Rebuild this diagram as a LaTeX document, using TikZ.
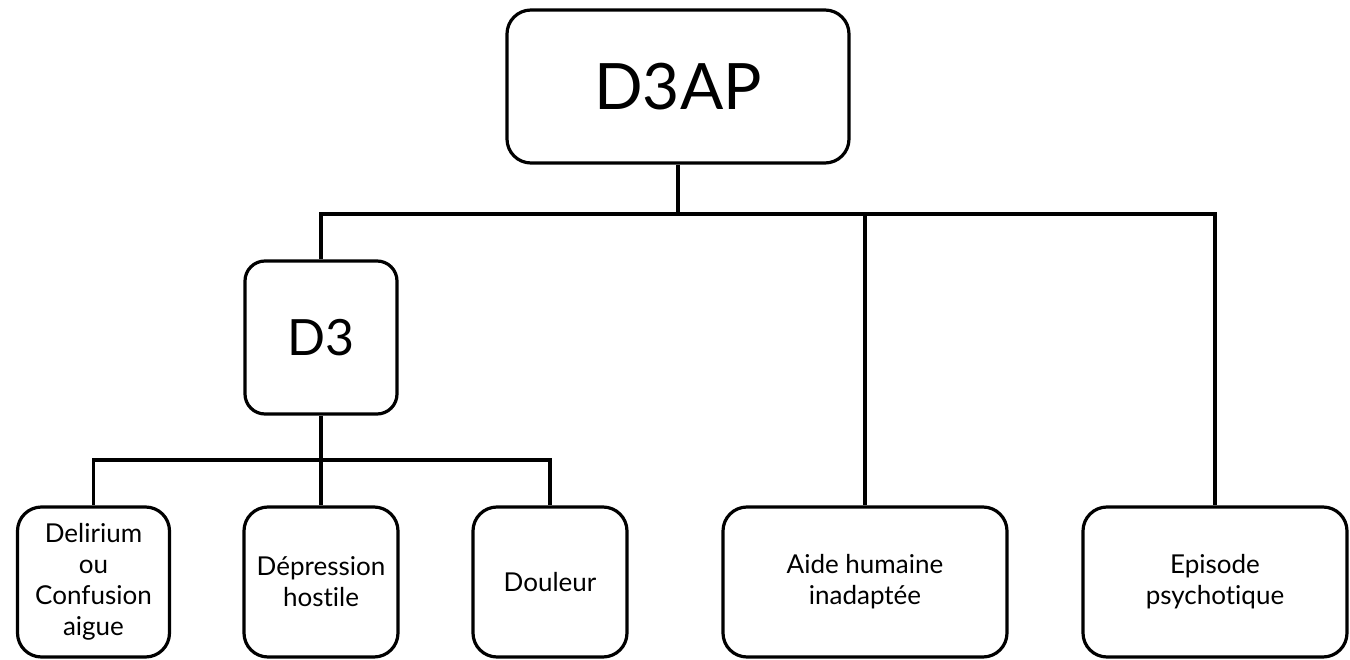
\documentclass[tikz,border=0pt]{standalone}
\usepackage{fontspec}
\setmainfont{Lato}[RawFeature=-liga]
\begin{document}
\begin{tikzpicture}[x=1pt,y=-1pt,
  box/.style={draw=black,line width=3.2pt,rounded corners=24pt,fill=white,align=center,inner sep=0pt},
  leaf/.style={box,minimum height=150pt,font=\fontsize{26}{31}\selectfont},
  conn/.style={draw=black,line width=3.2pt}]
\useasboundingbox[fill=white] (0,0) rectangle (1350,660);
\node[box,minimum width=342pt,minimum height=153pt,font=\fontsize{64}{68}\selectfont] (top) at (678,86.5) {D3AP};
\node[box,minimum width=152pt,minimum height=153pt,rounded corners=20pt,font=\fontsize{50}{54}\selectfont] (d3) at (321,337.5) {D3};
\node[leaf,minimum width=152pt] (del) at (93.5,582) {Delirium\\ou\\Confusion\\aigue};
\node[leaf,minimum width=154pt] (dep) at (321,582) {Dépression\\hostile};
\node[leaf,minimum width=154pt] (dou) at (550,582) {Douleur};
\node[leaf,minimum width=284pt] (aide) at (865,582) {Aide humaine\\inadaptée};
\node[leaf,minimum width=264pt] (epi) at (1215,582) {Episode\\psychotique};
\coordinate (bus) at (678,214);
\coordinate (bus2) at (321,460);
\draw[conn] (top.south) -- (bus);
\draw[conn] (bus) -| (d3.north);
\draw[conn] (bus) -| (aide.north);
\draw[conn] (bus) -| (epi.north);
\draw[conn] (d3.south) -- (dep.north);
\draw[conn] (bus2) -| (del.north);
\draw[conn] (bus2) -| (dou.north);
\end{tikzpicture}
\end{document}
